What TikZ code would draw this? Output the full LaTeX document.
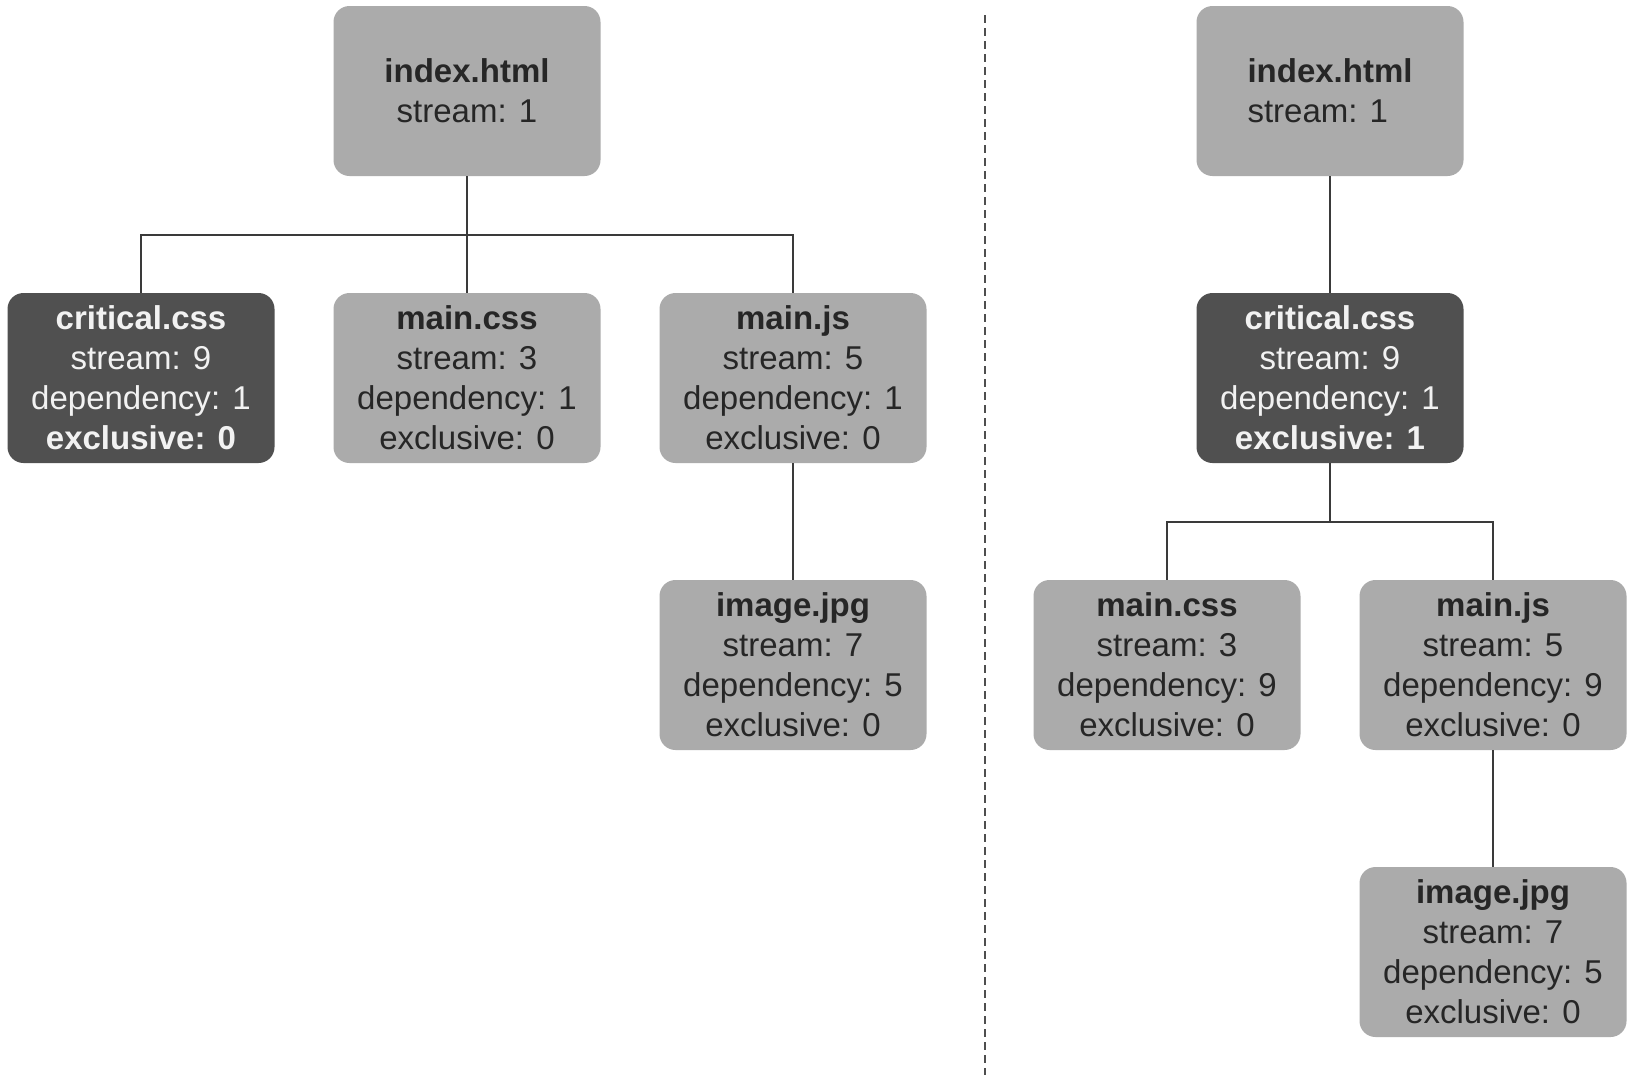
\documentclass[tikz,border=0pt]{standalone}
\usepackage{fontspec}
\setmainfont{Liberation Sans}
\definecolor{lightbox}{HTML}{ABABAB}
\definecolor{darkbox}{HTML}{505050}
\definecolor{darktext}{HTML}{262626}
\definecolor{lighttext}{HTML}{F2F2F2}
\definecolor{wire}{HTML}{3A3A3A}
\begin{document}
\begin{tikzpicture}[x=0.5pt,y=-0.5pt,
  box/.style={rounded corners=8pt, minimum width=133.5pt, minimum height=85pt,
    inner sep=2pt, align=center, font=\fontsize{16.5}{20}\selectfont},
  lightnode/.style={box, fill=lightbox, text=darktext},
  darknode/.style={box, fill=darkbox, text=lighttext},
  wireline/.style={draw=wire, line width=1pt},
  divider/.style={draw=wire!90, line width=1.1pt, dash pattern=on 4pt off 2.5pt}]
\fill[white] (0,0) rectangle (1636,1078);
\useasboundingbox (0,0) rectangle (1636,1078);

% left tree
\node[lightnode] (Lidx) at (467,91) {\textbf{index.html}\\stream: 1};
\node[darknode] (Lcrit) at (141,378) {\textbf{critical.css}\\stream: 9\\dependency: 1\\\textbf{exclusive: 0}};
\node[lightnode] (Lmcss) at (467,378) {\textbf{main.css}\\stream: 3\\dependency: 1\\exclusive: 0};
\node[lightnode] (Lmjs) at (793,378) {\textbf{main.js}\\stream: 5\\dependency: 1\\exclusive: 0};
\node[lightnode] (Limg) at (793,665) {\textbf{image.jpg}\\stream: 7\\dependency: 5\\exclusive: 0};
\coordinate (Lbar) at (467,235);
\draw[wireline] (Lidx.south) -- (Lmcss.north);
\draw[wireline] (Lcrit.north) |- (Lbar) -| (Lmjs.north);
\draw[wireline] (Lmjs.south) -- (Limg.north);

% divider
\coordinate (Dtop) at (985,15);
\coordinate (Dbot) at (985,1075);
\draw[divider] (Dtop) -- (Dbot);

% right tree
\node[lightnode, align=left] (Ridx) at (1330,91) {\textbf{index.html}\\stream: 1};
\node[darknode] (Rcrit) at (1330,378) {\textbf{critical.css}\\stream: 9\\dependency: 1\\\textbf{exclusive: 1}};
\node[lightnode] (Rmcss) at (1167,665) {\textbf{main.css}\\stream: 3\\dependency: 9\\exclusive: 0};
\node[lightnode] (Rmjs) at (1493,665) {\textbf{main.js}\\stream: 5\\dependency: 9\\exclusive: 0};
\node[lightnode] (Rimg) at (1493,952) {\textbf{image.jpg}\\stream: 7\\dependency: 5\\exclusive: 0};
\coordinate (Rbar) at (1330,522);
\draw[wireline] (Ridx.south) -- (Rcrit.north);
\draw[wireline] (Rcrit.south) -- (Rbar);
\draw[wireline] (Rmcss.north) |- (Rbar) -| (Rmjs.north);
\draw[wireline] (Rmjs.south) -- (Rimg.north);
\end{tikzpicture}
\end{document}
